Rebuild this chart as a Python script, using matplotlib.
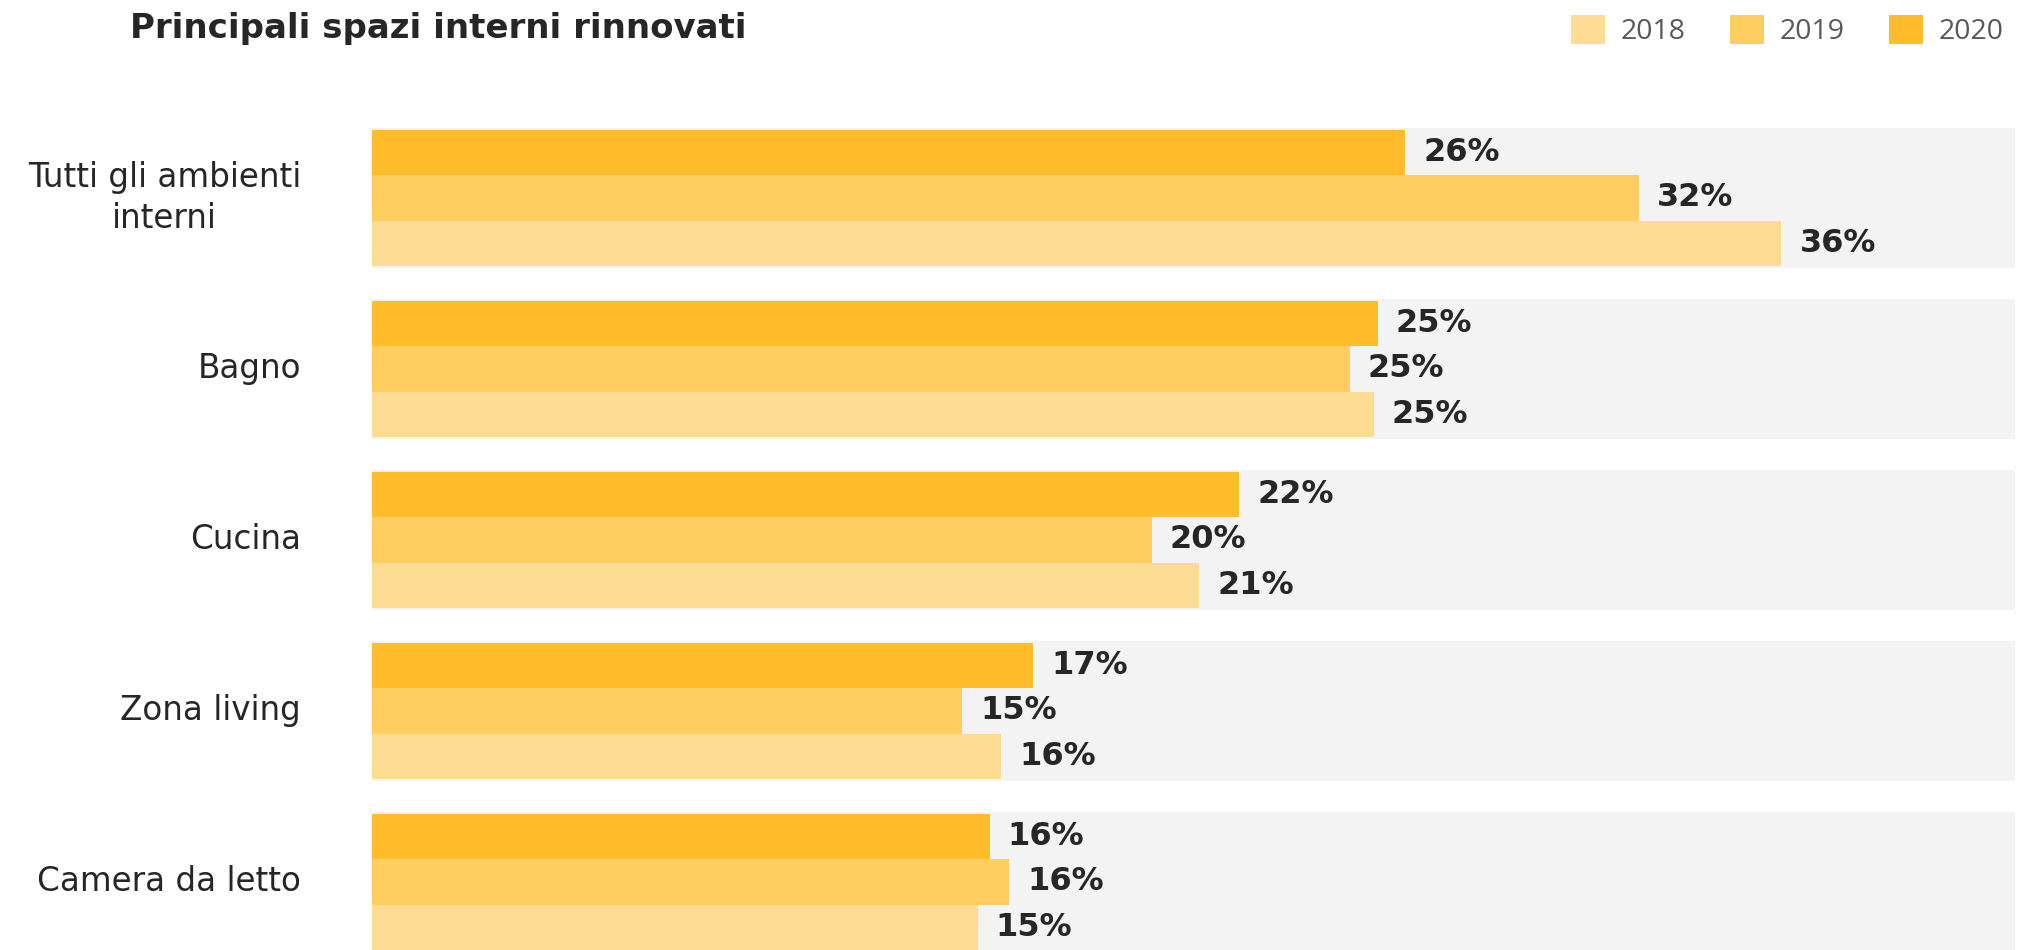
import matplotlib
matplotlib.use("Agg")
import matplotlib.pyplot as plt
import numpy as np
from matplotlib.patches import Patch

categories = ["Tutti gli ambienti\ninterni", "Bagno", "Cucina", "Zona living", "Camera da letto"]
years = ["2018", "2019", "2020"]
v2018 = [35.6, 25.3, 20.9, 15.9, 15.3]
v2019 = [32.0, 24.7, 19.7, 14.9, 16.1]
v2020 = [26.1, 25.4, 21.9, 16.7, 15.6]
colors = {"2018": "#FFDC93", "2019": "#FFCD60", "2020": "#FFBC2B"}
axis_max = 41.5

W, H = 2034, 950
fig = plt.figure(figsize=(W / 100, H / 100), dpi=100)
left_px, right_px = 372, 2015
top_px, bottom_px = 95.4, 950.4
ax = fig.add_axes([left_px / W, 1 - bottom_px / H, (right_px - left_px) / W, (bottom_px - top_px) / H])

n = len(categories)
y = np.arange(n)
bh = 0.265
series = [("2020", v2020, -bh), ("2019", v2019, 0.0), ("2018", v2018, bh)]

# background bands
ax.barh(y, [axis_max] * n, height=3 * bh + 0.02, color="#F3F3F3", zorder=0)

for name, vals, off in series:
    ax.barh(y + off, vals, height=bh, color=colors[name], zorder=2)
    for yi, v in zip(y, vals):
        ax.annotate(f"{round(v):d}%", (v, yi + off), xytext=(18, 0), textcoords="offset pixels",
                    ha="left", va="center", fontsize=23, fontweight="bold", color="#262626",
                    family="DejaVu Sans", zorder=3)

ax.set_xlim(0, axis_max)
ax.set_ylim(n - 1 + 0.4, -0.6)
ax.axis("off")

for yi, c in zip(y, categories):
    ax.annotate(c, (0, yi), xytext=(-71, 0), textcoords="offset pixels", ha="right", va="center",
                multialignment="center", fontsize=23.5, color="#262626", family="DejaVu Sans",
                linespacing=1.33)

fig.text(130 / W, 1 - 38 / H, "Principali spazi interni rinnovati", ha="left", va="baseline",
         fontsize=24.5, fontweight="bold", color="#262626", family="DejaVu Sans")

handles = [Patch(facecolor=colors[yr], edgecolor="none", label=yr) for yr in years]
fig.legend(handles=handles, loc="upper right", bbox_to_anchor=(2004 / W, 1 - 15 / H), ncol=3,
           frameon=False, prop={"family": "Open Sans", "size": 20.5}, labelcolor="#595959",
           handlelength=1.2, handleheight=1.2, handletextpad=0.55, columnspacing=1.55, borderpad=0,
           borderaxespad=0)

fig.savefig("out.png", dpi=100, facecolor="white")
